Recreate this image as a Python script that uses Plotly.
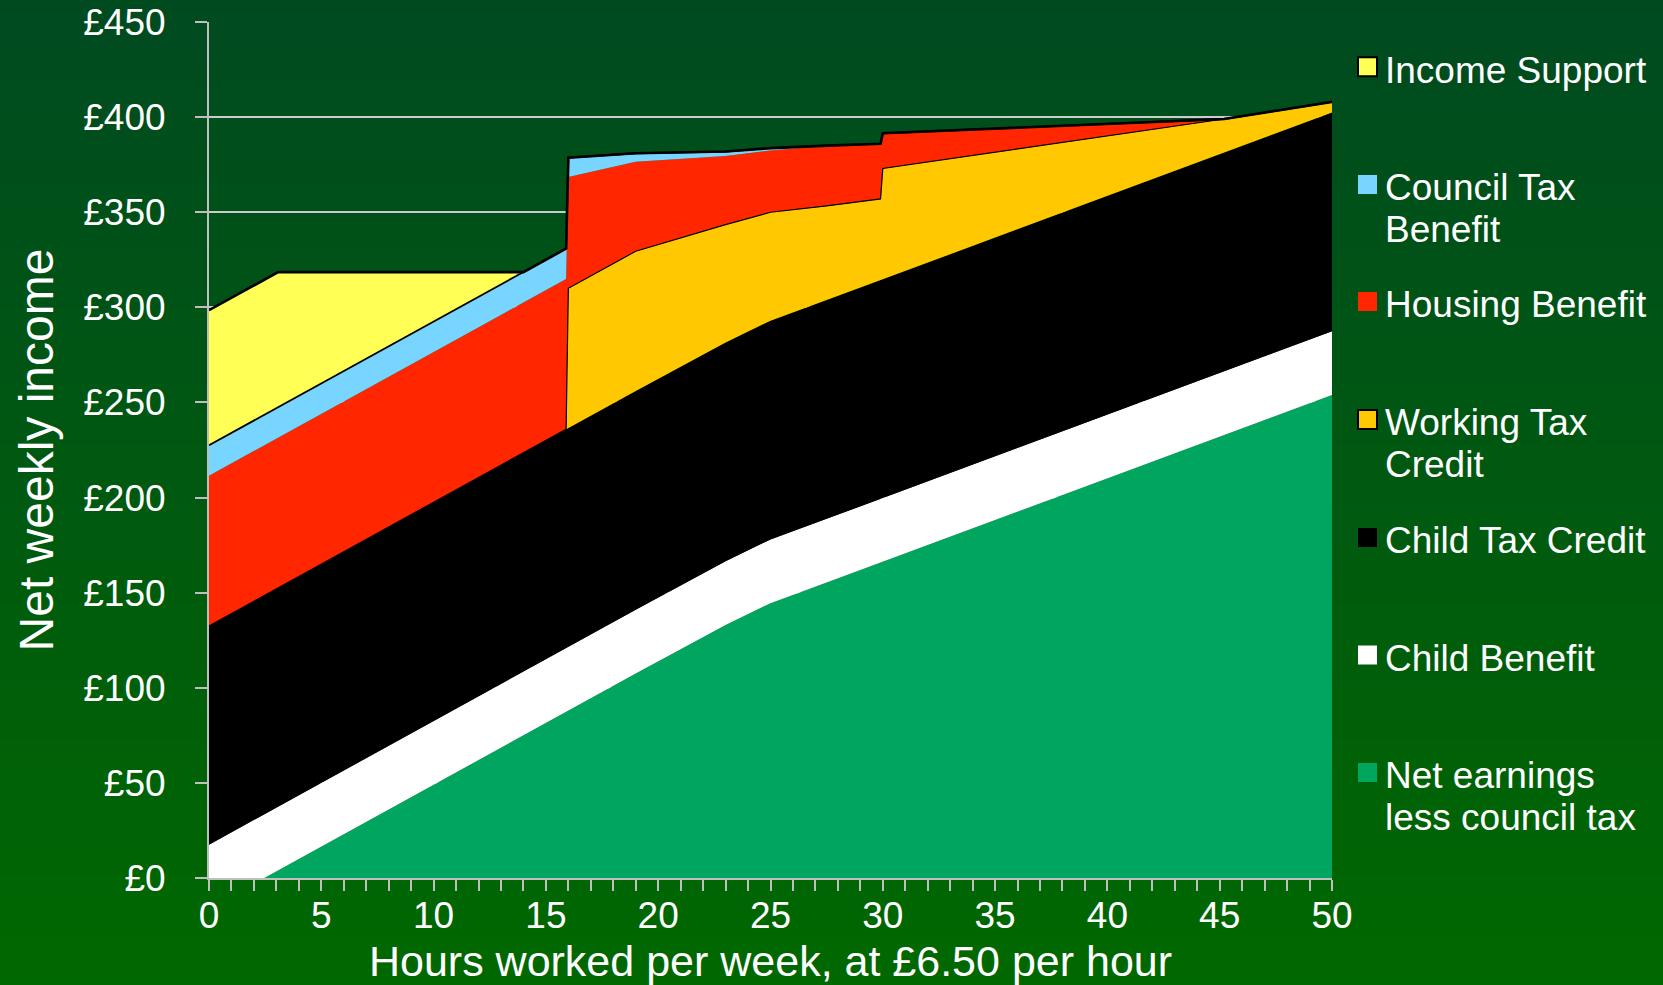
import plotly.graph_objects as go

# ---------------- data ----------------
hours = [0, 3.08, 14, 15.9, 16, 19, 23, 25, 27.5, 29.9, 30, 45.2, 50]
net_earnings = [-16, 4.0, 75, 87.4, 88, 107.5, 133, 144.5, 155.3, 165.8, 166.3, 232.9, 253.9]
child_benefit = [33.5, 33.5, 33.5, 33.5, 33.5, 33.5, 33.5, 33.5, 33.5, 33.5, 33.5, 33.5, 33.5]
child_tax_credit = [115, 115, 115, 115, 115, 115, 115, 115, 115, 115, 115, 115, 115]
working_tax_credit = [0, 0, 0, 0, 73.5, 73.5, 62, 57, 49.5, 42.7, 58.2, 17.6, 5.6]
housing_benefit = [79, 79, 79, 79, 58.5, 47, 36, 32.5, 31.7, 29, 18.5, 0, 0]
council_tax_benefit = [16, 16, 16, 16, 10.2, 4.5, 2.4, 1.2, 0, 0, 0, 0, 0]
income_support = [71, 71, 0, 0, 0, 0, 0, 0, 0, 0, 0, 0, 0]

series_names = ["Net earnings less council tax", "Child Benefit", "Child Tax Credit",
                "Working Tax Credit", "Housing Benefit", "Council Tax Benefit", "Income Support"]
series_values = [net_earnings, child_benefit, child_tax_credit, working_tax_credit,
                 housing_benefit, council_tax_benefit, income_support]
series_colors = ["#00A65F", "#FFFFFF", "#000000", "#FFC800", "#FF2600", "#77D5FF", "#FFFF55"]
series_line_w = [0, 0, 0, 1.2, 0, 1.8, 2.6]

legend_lines = [["Income Support"], ["Council Tax", "Benefit"], ["Housing Benefit"],
                ["Working Tax", "Credit"], ["Child Tax Credit"], ["Child Benefit"],
                ["Net earnings", "less council tax"]]
legend_colors = ["#FFFF55", "#77D5FF", "#FF2600", "#FFC800", "#000000", "#FFFFFF", "#00A65F"]
legend_border = [True, False, False, True, False, False, False]

x_title = "Hours worked per week, at £6.50 per hour"
y_title = "Net weekly income"

FONT = "Liberation Sans, Arial, sans-serif"
W, H = 1663, 985
L, R, T, B = 209, 331, 22, 107
PW, PH = W - L - R, H - T - B


def px(x):
    return (x - L) / PW


def py(y):
    return (H - B - y) / PH


fig = go.Figure()
for name, vals, col, lw in zip(series_names, series_values, series_colors, series_line_w):
    fig.add_trace(go.Scatter(
        x=hours, y=vals, name=name, stackgroup="one", mode="lines",
        fillcolor=col,
        line=dict(color="#000000", width=lw if lw > 0 else 0),
        hoverinfo="skip", showlegend=False,
    ))

shapes = []
# vertical gradient background
top_rgb = (0, 74, 32)
bot_rgb = (0, 104, 0)
n = 80
for i in range(n):
    f = (i + 0.5) / n
    c = tuple(round(top_rgb[k] + (bot_rgb[k] - top_rgb[k]) * f) for k in range(3))
    y0 = H * i / n
    y1 = H * (i + 1) / n + 1
    shapes.append(dict(type="rect", xref="paper", yref="paper", layer="below",
                       x0=px(0), x1=px(W), y0=py(y1), y1=py(y0),
                       fillcolor="rgb(%d,%d,%d)" % c, line=dict(width=0)))

annotations = []
marker_y = [66.7, 184.5, 301.5, 419.5, 537.5, 655, 772.5]
for lines, col, border, my in zip(legend_lines, legend_colors, legend_border, marker_y):
    shapes.append(dict(type="rect", xref="paper", yref="paper", layer="above",
                       x0=px(1358), x1=px(1377), y0=py(my + 9.5), y1=py(my - 9.5),
                       fillcolor=col,
                       line=dict(color="#000000", width=2 if border else 0)))
    for j, txt in enumerate(lines):
        annotations.append(dict(text=txt, xref="paper", yref="paper", showarrow=False,
                                x=px(1383), y=py(my + 3.3 + 41.6 * j),
                                xanchor="left", yanchor="middle",
                                font=dict(family=FONT, size=37, color="#FFFFFF")))

fig.update_layout(
    width=W, height=H,
    margin=dict(l=L, r=R, t=T, b=B, autoexpand=False),
    paper_bgcolor="rgb(0,90,20)",
    plot_bgcolor="rgba(0,0,0,0)",
    font=dict(family=FONT, color="#FFFFFF"),
    shapes=shapes, annotations=annotations,
    xaxis=dict(
        range=[0, 50], dtick=5, tick0=0, ticks="outside", ticklen=11, tickwidth=2,
        tickcolor="#BFBFBF", showline=True, linecolor="#BFBFBF", linewidth=2,
        showgrid=False, zeroline=False, ticklabelstandoff=-7,
        tickfont=dict(family=FONT, size=37, color="#FFFFFF"),
        minor=dict(dtick=1, ticks="outside", ticklen=11, tickwidth=2,
                   tickcolor="#BFBFBF", showgrid=False),
        title=dict(text=x_title, font=dict(family=FONT, size=43, color="#FFFFFF"),
                   standoff=10),
        automargin=False,
    ),
    yaxis=dict(
        range=[0, 450], dtick=50, tick0=0, ticks="outside", ticklen=12, tickwidth=2,
        tickcolor="#BFBFBF", showline=True, linecolor="#BFBFBF", linewidth=2,
        showgrid=True, gridcolor="#CCCCCC", gridwidth=1.6, zeroline=False,
        tickprefix="£", ticklabelstandoff=22,
        tickfont=dict(family=FONT, size=37, color="#FFFFFF"),
        title=dict(text=y_title, font=dict(family=FONT, size=48, color="#FFFFFF"),
                   standoff=14),
        automargin=False,
    ),
)

fig.write_html("out.html")
